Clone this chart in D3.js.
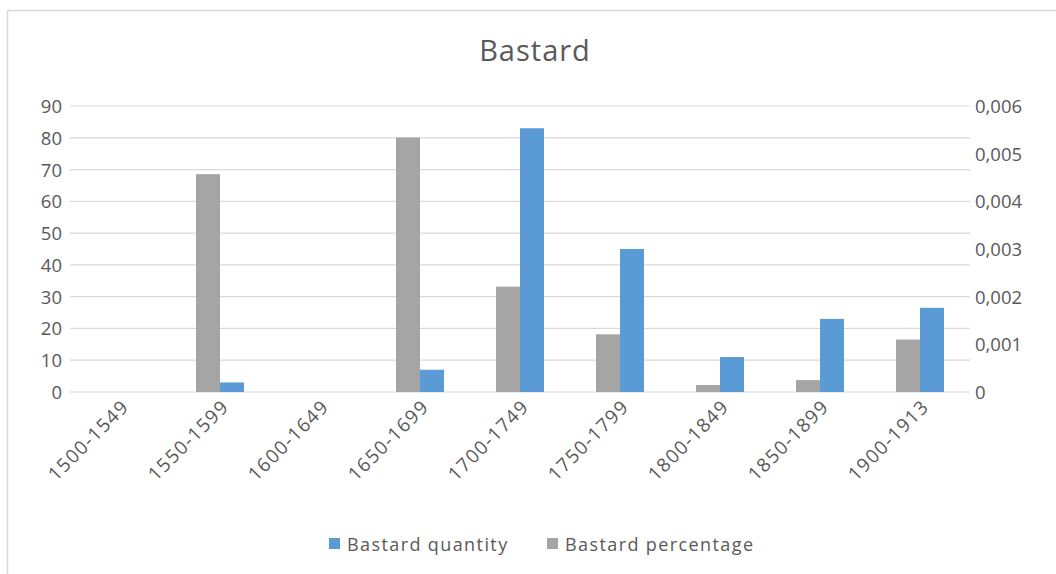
<!DOCTYPE html>
<html><head><meta charset="utf-8">
<script src="https://cdn.jsdelivr.net/npm/d3@7"></script>
<style>body{margin:0;background:#fff}svg{display:block}</style>
</head><body>
<svg id="c" width="1056" height="574"></svg>
<script>
const categories = ["1500-1549","1550-1599","1600-1649","1650-1699","1700-1749","1750-1799","1800-1849","1850-1899","1900-1913"];
const quantity = [0, 3, 0, 7, 83, 45, 11, 23, 26.5];
const percentage = [0, 0.00457, 0, 0.00534, 0.00221, 0.00121, 0.000147, 0.00025, 0.0011];
const leftTicks = [0,10,20,30,40,50,60,70,80,90];
const rightTicks = [0,0.001,0.002,0.003,0.004,0.005,0.006];
const rightTickLabels = ["0","0,001","0,002","0,003","0,004","0,005","0,006"];
const seriesNames = ["Bastard quantity","Bastard percentage"];
const colors = {quantity:"#5b9bd5", percentage:"#a5a5a5"};

const font = "'Open Sans', 'Liberation Sans', sans-serif";
const svg = d3.select("#c");
const L = 70, R = 970, T = 106, B = 392;

svg.append("path").attr("d","M7.5,574 V10.5 H1056").attr("fill","none").attr("stroke","#d9d9d9").attr("stroke-width",1.5);

const x = d3.scaleBand().domain(categories).range([L,R]).paddingInner(0.52).paddingOuter(0.26);
const yL = d3.scaleLinear().domain([0,90]).range([B,T]);
const yR = d3.scaleLinear().domain([0,0.006]).range([B,T]);

// gridlines
svg.append("g").selectAll("line").data(leftTicks).join("line")
  .attr("x1",L).attr("x2",R).attr("y1",d=>yL(d)).attr("y2",d=>yL(d))
  .attr("stroke","#d9d9d9").attr("stroke-width",1.2);

const bw = x.bandwidth()/2;
svg.append("g").selectAll("rect").data(categories).join("rect")
  .attr("x",d=>x(d)).attr("width",bw)
  .attr("y",(d,i)=>yR(percentage[i])).attr("height",(d,i)=>B-yR(percentage[i]))
  .attr("fill",colors.percentage);
svg.append("g").selectAll("rect").data(categories).join("rect")
  .attr("x",d=>x(d)+bw).attr("width",bw)
  .attr("y",(d,i)=>yL(quantity[i])).attr("height",(d,i)=>B-yL(quantity[i]))
  .attr("fill",colors.quantity);

// left axis
const axL = d3.axisLeft(yL).tickValues(leftTicks).tickSize(0).tickPadding(0);
const gL = svg.append("g").attr("transform",`translate(${L-8},0)`).call(axL);
gL.select(".domain").remove();
gL.selectAll("text").attr("font-family",font).attr("font-size",18.5).attr("fill","#595959").attr("dy","0.35em");

// right axis
const axR = d3.axisRight(yR).tickValues(rightTicks).tickFormat((d,i)=>rightTickLabels[i]).tickSize(0).tickPadding(0);
const gR = svg.append("g").attr("transform",`translate(${R+5},0)`).call(axR);
gR.select(".domain").remove();
gR.selectAll("text").attr("font-family",font).attr("font-size",18.5).attr("fill","#595959").attr("dy","0.35em");

// x axis labels
const axX = d3.axisBottom(x).tickSize(0).tickPadding(0);
const gX = svg.append("g").attr("transform",`translate(0,${B})`).call(axX);
gX.select(".domain").remove();
gX.selectAll("text")
  .attr("font-family",font).attr("font-size",19).attr("letter-spacing",1.3).attr("fill","#595959")
  .attr("text-anchor","end").attr("dy",0).attr("y",0)
  .attr("transform","translate(10,16) rotate(-45)");

// title
svg.append("text").attr("x",535).attr("y",61).attr("text-anchor","middle")
  .attr("font-family",font).attr("font-size",29).attr("letter-spacing",1).attr("fill","#595959").text("Bastard");

// legend
const leg = [{n:seriesNames[0],c:colors.quantity,x:329},{n:seriesNames[1],c:colors.percentage,x:547}];
const lg = svg.append("g");
leg.forEach(d=>{
  lg.append("rect").attr("x",d.x).attr("y",538).attr("width",11).attr("height",11).attr("fill",d.c);
  lg.append("text").attr("x",d.x+18).attr("y",551).attr("font-family",font).attr("font-size",18)
    .attr("letter-spacing",1.4).attr("fill","#595959").text(d.n);
});
</script>
</body></html>
